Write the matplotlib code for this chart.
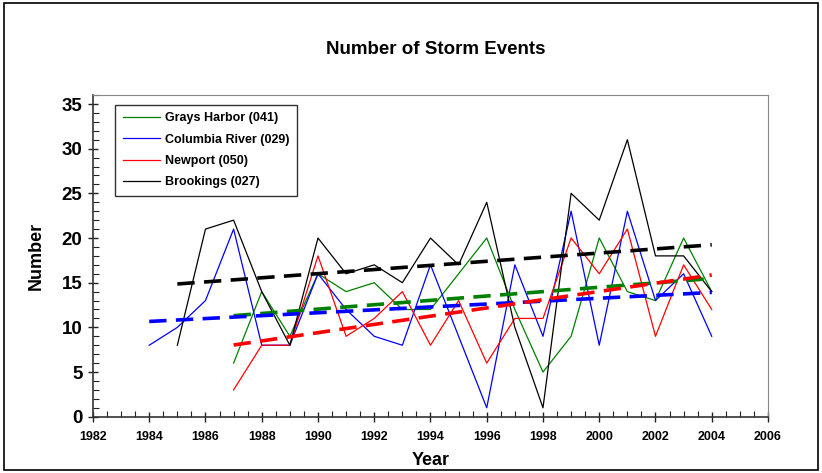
import numpy as np
import matplotlib
matplotlib.use('Agg')
import matplotlib.pyplot as plt
from matplotlib.patches import Rectangle
from matplotlib.ticker import MultipleLocator

plt.rcParams['font.family'] = ['Liberation Sans', 'DejaVu Sans']

# data
grays_years = list(range(1987, 2005))
grays_vals = [6, 14, 9, 16, 14, 15, 12, 12, 16, 20, 12, 5, 9, 20, 14, 13, 20, 14]

columbia_years = list(range(1984, 2005))
columbia_vals = [8, 10, 13, 21, 8, 8, 16, 12, 9, 8, 17, 9, 1, 17, 9, 23, 8, 23, 13, 16, 9]

newport_years = list(range(1987, 2005))
newport_vals = [3, 8, 8, 18, 9, 11, 14, 8, 13, 6, 11, 11, 20, 16, 21, 9, 17, 12]

brookings_years = list(range(1985, 2005))
brookings_vals = [8, 21, 22, 14, 8, 20, 16, 17, 15, 20, 17, 24, 10, 1, 25, 22, 31, 18, 18, 14]

series = [
    ('Grays Harbor (041)', grays_years, grays_vals, '#008000'),
    ('Columbia River (029)', columbia_years, columbia_vals, '#0000ff'),
    ('Newport (050)', newport_years, newport_vals, '#ff0000'),
    ('Brookings (027)', brookings_years, brookings_vals, '#000000'),
]

fig = plt.figure(figsize=(8.22, 4.73), dpi=100)
ax = fig.add_axes([0.1131, 0.119, 0.8212, 0.680])

for label, yrs, vals, col in series:
    ax.plot(yrs, vals, color=col, lw=0.9, label=label)

# linear trend lines
for label, yrs, vals, col in series:
    x = np.array(yrs, dtype=float)
    m, b = np.polyfit(x, np.array(vals, dtype=float), 1)
    ax.plot([x[0], x[-1]], [m * x[0] + b, m * x[-1] + b], color=col, lw=2.6,
            dashes=(4.8, 2.6), solid_capstyle='butt')

ax.set_xlim(1982, 2006)
ax.set_ylim(0, 36)
ax.xaxis.set_major_locator(MultipleLocator(2))
ax.xaxis.set_minor_locator(MultipleLocator(0.5))
ax.yaxis.set_major_locator(MultipleLocator(5))
ax.yaxis.set_minor_locator(MultipleLocator(1))
ax.set_yticks(range(0, 36, 5))

ax.tick_params(which='major', direction='inout', length=7, width=1, colors='#222222')
ax.tick_params(which='minor', direction='in', length=4, width=0.8, colors='#222222')
ax.tick_params(axis='x', which='major', labelsize=9, pad=7)
ax.tick_params(axis='y', which='major', labelsize=13.5, pad=4)
for lab in ax.get_xticklabels() + ax.get_yticklabels():
    lab.set_fontweight('bold')
    lab.set_color('black')

for side in ['top', 'right']:
    ax.spines[side].set_color('#888888')
for side in ['left', 'bottom']:
    ax.spines[side].set_color('#333333')
    ax.spines[side].set_linewidth(1.2)

ax.set_xlabel('Year', fontsize=13, fontweight='bold', labelpad=6)
ax.set_ylabel('Number', fontsize=13, fontweight='bold', labelpad=12)

fig.text(0.53, 1 - 50 / 473, 'Number of Storm Events', ha='center', va='center',
         fontsize=13.5, fontweight='bold')

leg = ax.legend(loc='upper left', bbox_to_anchor=(0.033, 0.97), fontsize=9,
                prop={'weight': 'bold', 'size': 9}, frameon=True, fancybox=False,
                handlelength=3.0, handletextpad=0.4, labelspacing=0.75,
                borderpad=0.6, borderaxespad=0)
leg.get_frame().set_edgecolor('black')
leg.get_frame().set_linewidth(1.0)

fig.patches.append(Rectangle((4 / 822, 3 / 473), 814 / 822, 467 / 473,
                             transform=fig.transFigure, fill=False,
                             edgecolor='black', lw=1.2))

fig.savefig('out.png', dpi=100)
